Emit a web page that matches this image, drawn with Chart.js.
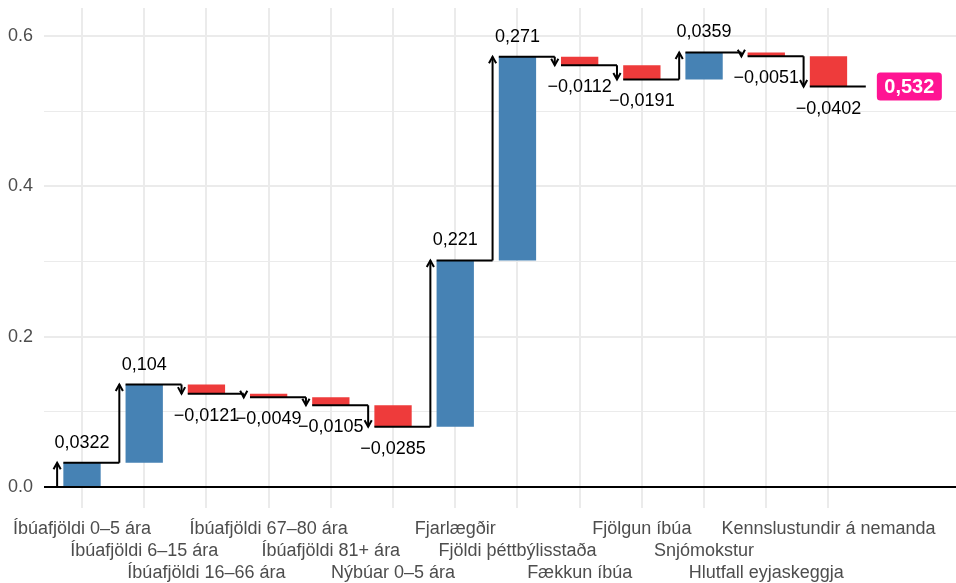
<!DOCTYPE html>
<html>
<head>
<meta charset="utf-8">
<script src="https://cdn.jsdelivr.net/npm/chart.js@4.4.1/dist/chart.umd.min.js"></script>
<style>
  html, body { margin: 0; padding: 0; background: #ffffff; }
  #wrap { width: 956px; height: 583px; }
</style>
</head>
<body>
<div id="wrap"><canvas id="c" width="956" height="583"></canvas></div>
<script>
const categories = [
  'Íbúafjöldi 0–5 ára',
  'Íbúafjöldi 6–15 ára',
  'Íbúafjöldi 16–66 ára',
  'Íbúafjöldi 67–80 ára',
  'Íbúafjöldi 81+ ára',
  'Nýbúar 0–5 ára',
  'Fjarlægðir',
  'Fjöldi þéttbýlisstaða',
  'Fækkun íbúa',
  'Fjölgun íbúa',
  'Snjómokstur',
  'Hlutfall eyjaskeggja',
  'Kennslustundir á nemanda'
];
const values = [0.0322, 0.104, -0.0121, -0.0049, -0.0105, -0.0285, 0.221, 0.271, -0.0112, -0.0191, 0.0359, -0.0051, -0.0402];
const totalValue = 0.532;
const yTicks = [0, 0.1, 0.2, 0.3, 0.4, 0.5, 0.6];
const yTickLabels = { 0: '0.0', 0.2: '0.2', 0.4: '0.4', 0.6: '0.6' };

const BLUE = '#4682B4';
const RED = '#EE3B3B';
const PINK = '#FF1493';
const GRID = '#EBEBEB';
const TEXTGREY = '#4D4D4D';
const FONT = "'Liberation Sans', Arial, Helvetica, sans-serif";

// cumulative levels
const starts = [];
const ends = [];
let acc = 0;
values.forEach(v => { starts.push(acc); acc += v; ends.push(acc); });

const barData = values.map((v, i) => ({ x: i, y: [starts[i], ends[i]] }));
const barColors = values.map(v => v >= 0 ? BLUE : RED);

// horizontal step segments: from bar left edge to next arrow
const stepData = [];
values.forEach((v, i) => {
  stepData.push({ x: i - 0.3, y: ends[i] });
  stepData.push({ x: i + 0.6, y: ends[i] });
  stepData.push({ x: i + 0.6, y: null });
});
// vertical arrow shafts
const arrowData = [];
values.forEach((v, i) => {
  arrowData.push({ x: i - 0.4, y: starts[i] });
  arrowData.push({ x: i - 0.4, y: ends[i] });
  arrowData.push({ x: i - 0.4, y: null });
});

function fmt(v) {
  let s = parseFloat(Math.abs(v).toPrecision(3)).toString().replace('.', ',');
  return (v < 0 ? '\u2212' : '') + s;
}

const rowOf = i => i % 3;

function zeroPadding(scale) {
  scale.paddingTop = 0;
  scale.paddingBottom = 0;
  scale.paddingLeft = 0;
  scale.paddingRight = 0;
}

const overlayPlugin = {
  id: 'overlay',
  afterDatasetsDraw(chart) {
    const ctx = chart.ctx;
    const xs = chart.scales.x, ys = chart.scales.y;
    ctx.save();
    // arrowheads
    ctx.strokeStyle = '#000000';
    ctx.lineWidth = 2;
    ctx.lineCap = 'butt';
    ctx.lineJoin = 'miter';
    values.forEach((v, i) => {
      const px = xs.getPixelForValue(i - 0.4);
      const py = ys.getPixelForValue(ends[i]);
      const dir = v >= 0 ? 1 : -1; // 1 = pointing up
      ctx.beginPath();
      ctx.moveTo(px - 3.6, py + dir * 6.5);
      ctx.lineTo(px, py);
      ctx.lineTo(px + 3.6, py + dir * 6.5);
      ctx.stroke();
    });
    // value labels
    ctx.fillStyle = '#000000';
    ctx.font = '18px ' + FONT;
    ctx.textAlign = 'center';
    ctx.textBaseline = 'middle';
    values.forEach((v, i) => {
      const px = xs.getPixelForValue(i);
      const py = ys.getPixelForValue(ends[i]) + (v >= 0 ? -20 : 22);
      ctx.fillText(fmt(v), px, py);
    });
    // total badge
    const tx = xs.getPixelForValue(13.3);
    const ty = ys.getPixelForValue(ends[ends.length - 1]);
    const w = 65, h = 28, r = 3.5;
    ctx.fillStyle = PINK;
    ctx.beginPath();
    ctx.roundRect(tx - w / 2, ty - h / 2, w, h, r);
    ctx.fill();
    ctx.fillStyle = '#FFFFFF';
    ctx.font = 'bold 20px ' + FONT;
    ctx.fillText(totalValue.toString().replace('.', ','), tx, ty + 1);
    ctx.restore();
  }
};

new Chart(document.getElementById('c'), {
  type: 'bar',
  data: {
    datasets: [
      {
        type: 'line',
        data: stepData,
        borderColor: '#000000',
        borderWidth: 2,
        pointRadius: 0,
        spanGaps: false,
        tension: 0,
        order: 0
      },
      {
        type: 'line',
        data: arrowData,
        borderColor: '#000000',
        borderWidth: 2,
        pointRadius: 0,
        spanGaps: false,
        tension: 0,
        order: 0
      },
      {
        type: 'bar',
        data: barData,
        backgroundColor: barColors,
        borderWidth: 0,
        barPercentage: 0.6,
        categoryPercentage: 1.0,
        order: 1
      }
    ]
  },
  options: {
    responsive: false,
    animation: false,
    events: [],
    layout: { padding: { top: 8, left: 0, right: 0, bottom: 0 } },
    plugins: {
      legend: { display: false },
      tooltip: { enabled: false }
    },
    scales: {
      x: {
        type: 'linear',
        offset: false,
        min: -0.611,
        max: 14.05,
        afterBuildTicks(scale) {
          scale.ticks = categories.map((c, i) => ({ value: i }));
        },
        afterFit(scale) { scale.height = 75; zeroPadding(scale); },
        border: { display: false },
        grid: { offset: false, color: GRID, lineWidth: 2, drawTicks: false },
        ticks: {
          autoSkip: false,
          maxRotation: 0,
          minRotation: 0,
          padding: 10,
          color: TEXTGREY,
          font: { family: FONT, size: 18, lineHeight: '22px' },
          callback(value) {
            const i = Math.round(value);
            const lines = [];
            for (let k = 0; k < rowOf(i); k++) lines.push('');
            lines.push(categories[i]);
            return lines;
          }
        }
      },
      y: {
        type: 'linear',
        min: -0.028,
        max: 0.637,
        afterBuildTicks(scale) {
          scale.ticks = yTicks.map(v => ({ value: v }));
        },
        afterFit(scale) { scale.width = 44; zeroPadding(scale); },
        border: { display: false },
        grid: {
          drawTicks: false,
          color(ctx) {
            const v = Math.round(ctx.tick.value * 10) / 10;
            return v === 0 ? '#000000' : GRID;
          },
          lineWidth(ctx) {
            const v = Math.round(ctx.tick.value * 10);
            if (v === 0) return 2;
            return v % 2 === 0 ? 2 : 1;
          }
        },
        ticks: {
          padding: 11,
          color: TEXTGREY,
          font: { family: FONT, size: 18 },
          callback(value) {
            const key = Math.round(value * 10) / 10;
            return yTickLabels[key] !== undefined ? yTickLabels[key] : '';
          }
        }
      }
    }
  },
  plugins: [overlayPlugin]
});
</script>
</body>
</html>
